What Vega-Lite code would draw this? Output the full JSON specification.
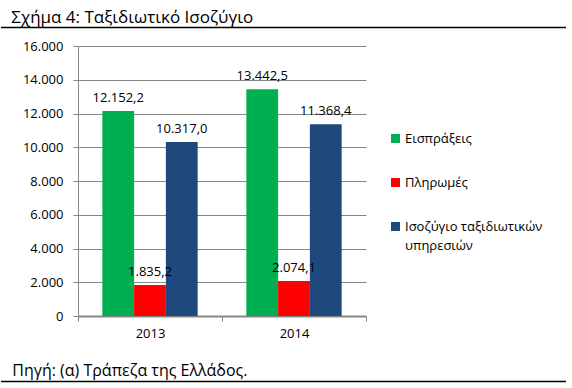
{
  "$schema": "https://vega.github.io/schema/vega-lite/v6.json",
  "padding": {"left": 0, "top": 8, "right": 0, "bottom": 0},
  "background": "white",
  "spacing": 11,
  "config": {
    "locale": {"number": {"decimal": ",", "thousands": ".", "grouping": [3], "currency": ["", " €"]}},
    "font": "Open Sans",
    "view": {"stroke": null},
    "style": {"guide-label": {"lineHeight": 19}}
  },
  "vconcat": [
    {
      "width": 565,
      "height": 1,
      "title": {"text": "Σχήμα 4: Ταξιδιωτικό Ισοζύγιο", "anchor": "start", "dx": 11, "fontSize": 17, "fontWeight": "normal", "color": "#000000", "font": "Open Sans", "offset": 0},
      "data": {"values": [{"v": 0}]},
      "mark": {"type": "rule", "color": "#000000", "strokeWidth": 1.5},
      "encoding": {"y": {"field": "v", "type": "quantitative", "axis": null}}
    },
    {
      "width": 365,
      "height": 270,
      "data": {"values": [
        {"year": "2013", "series": "Εισπράξεις", "value": 12152.2},
        {"year": "2013", "series": "Πληρωμές", "value": 1835.2},
        {"year": "2013", "series": "Ισοζύγιο ταξιδιωτικών υπηρεσιών", "value": 10317.0},
        {"year": "2014", "series": "Εισπράξεις", "value": 13442.5},
        {"year": "2014", "series": "Πληρωμές", "value": 2074.1},
        {"year": "2014", "series": "Ισοζύγιο ταξιδιωτικών υπηρεσιών", "value": 11368.4}
      ]},
      "encoding": {
        "x": {"field": "year", "type": "nominal", "scale": {"paddingInner": 0, "paddingOuter": 0, "range": [77, 365]},
          "axis": {"title": null, "labelAngle": 0, "tickBand": "extent", "tickSize": 5, "tickColor": "#868686", "domainColor": "#868686", "domainWidth": 2, "labelPadding": 6, "labelFontSize": 13, "labelColor": "#000000", "labelFont": "Open Sans", "grid": false, "minExtent": 35}},
        "xOffset": {"field": "series", "type": "nominal", "sort": ["Εισπράξεις", "Πληρωμές", "Ισοζύγιο ταξιδιωτικών υπηρεσιών"], "scale": {"paddingInner": 0, "paddingOuter": 0.766}},
        "y": {"field": "value", "type": "quantitative", "scale": {"domain": [0, 16000]},
          "axis": {"title": null, "offset": -77, "values": [0, 2000, 4000, 6000, 8000, 10000, 12000, 14000, 16000], "format": ",d", "labelFontSize": 13, "labelColor": "#000000", "labelFont": "Open Sans", "tickColor": "#868686", "tickSize": 5, "domainColor": "#868686", "gridColor": "#868686", "grid": true, "labelPadding": 10}}
      },
      "layer": [
        {
          "mark": {"type": "bar"},
          "encoding": {
            "color": {"field": "series", "type": "nominal",
              "scale": {"domain": ["Εισπράξεις", "Πληρωμές", "Ισοζύγιο ταξιδιωτικών υπηρεσιών"], "range": ["#00B050", "#FF0000", "#1F497D"]},
              "legend": {"title": null, "orient": "none", "legendX": 388, "legendY": 105, "symbolType": "square", "symbolSize": 81, "symbolStrokeWidth": 0, "labelFontSize": 13, "labelFont": "Open Sans", "labelColor": "#000000", "rowPadding": 30, "labelOffset": 3, "labelLimit": 300,
                "labelExpr": "datum.label == 'Ισοζύγιο ταξιδιωτικών υπηρεσιών' ? ['Ισοζύγιο ταξιδιωτικών', 'υπηρεσιών'] : datum.label"}
            }
          }
        },
        {
          "mark": {"type": "text", "dy": -13, "fontSize": 13, "color": "#000000", "baseline": "middle", "font": "Open Sans"},
          "encoding": {"text": {"field": "value", "type": "quantitative", "format": ",.1f"}}
        }
      ]
    },
    {
      "width": 565,
      "height": 1,
      "title": {"text": "Πηγή: (α) Τράπεζα της Ελλάδος.", "anchor": "start", "dx": 12, "fontSize": 16, "fontWeight": "normal", "color": "#000000", "font": "Open Sans", "offset": 2},
      "data": {"values": [{"v": 0}]},
      "mark": {"type": "rule", "color": "#000000", "strokeWidth": 1.5},
      "encoding": {"y": {"field": "v", "type": "quantitative", "axis": null}}
    }
  ]
}
